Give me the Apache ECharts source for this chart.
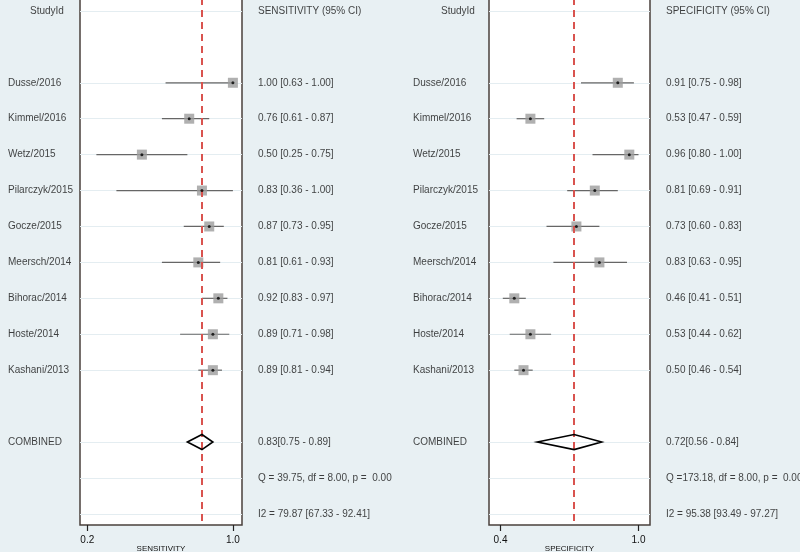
<!DOCTYPE html>
<html><head><meta charset="utf-8">
<script src="https://cdn.jsdelivr.net/npm/echarts@6/dist/echarts.min.js"></script>
<style>html,body{margin:0;padding:0;background:#e8f0f3}#c{width:800px;height:552px}</style>
</head><body><div id="c"></div>
<script>
// ---- data ----
const studies = ['Dusse/2016','Kimmel/2016','Wetz/2015','Pilarczyk/2015','Gocze/2015','Meersch/2014','Bihorac/2014','Hoste/2014','Kashani/2013'];
const sensEst = [1.00,0.76,0.50,0.83,0.87,0.81,0.92,0.89,0.89];
const sensLo  = [0.63,0.61,0.25,0.36,0.73,0.61,0.83,0.71,0.81];
const sensHi  = [1.00,0.87,0.75,1.00,0.95,0.93,0.97,0.98,0.94];
const specEst = [0.91,0.53,0.96,0.81,0.73,0.83,0.46,0.53,0.50];
const specLo  = [0.75,0.47,0.80,0.69,0.60,0.63,0.41,0.44,0.46];
const specHi  = [0.98,0.59,1.00,0.91,0.83,0.95,0.51,0.62,0.54];
const sensCombined = [0.83,0.75,0.89];
const specCombined = [0.72,0.56,0.84];
const sensQ  = 'Q = 39.75, df = 8.00, p =  0.00';
const sensI2 = 'I2 = 79.87 [67.33 - 92.41]';
const specQ  = 'Q =173.18, df = 8.00, p =  0.00';
const specI2 = 'I2 = 95.38 [93.49 - 97.27]';
const sensTicks = [0.2, 1.0];
const specTicks = [0.4, 1.0];
const headerStudy = 'StudyId';
const sensHeader = 'SENSITIVITY (95% CI)';
const specHeader = 'SPECIFICITY (95% CI)';
const combinedLabel = 'COMBINED';

// ---- layout rows ----
const ROW_HEADER = 0, ROW_FIRST = 2, ROW_COMB = 12, ROW_Q = 13, ROW_I2 = 14;
const studyRows = studies.map((_, i) => ROW_FIRST + i);
const gridRows = [ROW_HEADER, ...studyRows, ROW_COMB, ROW_Q, ROW_I2];

const FONT = "'Liberation Sans', Arial, sans-serif";
const TXT = '#111';
const f2 = v => v.toFixed(2);

const G = {top: -2, bottom: 27, outerBoundsMode: 'none', containLabel: false};
const grids = [
  {...G, left: 0,   width: 80},   // 0 names L
  {...G, left: 80,  width: 162, show: true, backgroundColor: '#fff', borderColor: '#4a403d', borderWidth: 1.5}, // 1 plot L
  {...G, left: 242, width: 158},  // 2 stats L
  {...G, left: 400, width: 89},   // 3 names R
  {...G, left: 489, width: 161, show: true, backgroundColor: '#fff', borderColor: '#4a403d', borderWidth: 1.5}, // 4 plot R
  {...G, left: 650, width: 150}   // 5 stats R
];

const yAxes = grids.map((g, i) => ({type: 'value', gridIndex: i, inverse: true, min: -0.36, max: 14.31, show: false}));

function plotX(gi, min, max, ticks, name) {
  return {
    type: 'value', gridIndex: gi, min, max, position: 'bottom',
    axisLine: {show: false, onZero: false},
    splitLine: {show: false},
    axisTick: {show: true, customValues: ticks, length: 6, inside: false, lineStyle: {color: '#222', width: 1.2}},
    axisLabel: {show: true, customValues: ticks, formatter: v => v.toFixed(1), fontSize: 10, color: TXT, fontFamily: FONT, margin: 10},
    name, nameLocation: 'middle', nameGap: 20, nameMoveOverlap: false,
    nameTextStyle: {fontSize: 8, color: TXT, fontFamily: FONT}
  };
}
const xAxes = [
  {type: 'value', gridIndex: 0, min: 0, max: 1, show: false},
  plotX(1, 0.16, 1.05, sensTicks, 'SENSITIVITY'),
  {type: 'value', gridIndex: 2, min: 0, max: 1, show: false},
  {type: 'value', gridIndex: 3, min: 0, max: 1, show: false},
  plotX(4, 0.35, 1.05, specTicks, 'SPECIFICITY'),
  {type: 'value', gridIndex: 5, min: 0, max: 1, show: false}
];

function textSeries(gi, items, dist) {
  return {
    type: 'scatter', xAxisIndex: gi, yAxisIndex: gi, symbolSize: 0, silent: true, clip: false,
    itemStyle: {color: 'transparent'},
    label: {show: true, position: 'right', distance: dist, formatter: p => p.name,
            fontSize: 10, color: TXT, fontFamily: FONT},
    data: items.map(it => ({name: it[0], value: [0, it[1]]}))
  };
}

function forestSeries(gi, est, lo, hi, comb) {
  const ciData = est.map((e, i) => [studyRows[i], lo[i], hi[i]]);
  return [
    { // CI lines + row gridlines
      type: 'custom', xAxisIndex: gi, yAxisIndex: gi, z: 2, silent: true,
      renderItem: (params, api) => {
        const y = api.value(0), a = api.coord([api.value(1), y]), b = api.coord([api.value(2), y]);
        return {type: 'line', shape: {x1: a[0], y1: a[1], x2: b[0], y2: b[1]}, style: {stroke: '#666', lineWidth: 1.2}};
      },
      encode: {x: [1, 2], y: 0},
      data: ciData,
      markLine: {
        silent: true, symbol: 'none', label: {show: false}, z: 1,
        lineStyle: {color: '#e4edf1', width: 1, type: 'solid'},
        data: gridRows.map(r => ({yAxis: r}))
      }
    },
    { // squares
      type: 'scatter', xAxisIndex: gi, yAxisIndex: gi, z: 4, silent: true,
      symbol: 'rect', symbolSize: 10, itemStyle: {color: '#9c9c9c'},
      data: est.map((e, i) => [e, studyRows[i]]),
      markLine: {
        silent: true, symbol: 'none', label: {show: false},
        lineStyle: {color: '#d9534f', width: 2, type: [7, 5]},
        data: [{xAxis: comb[0]}]
      }
    },
    { // centre dots
      type: 'scatter', xAxisIndex: gi, yAxisIndex: gi, z: 5, silent: true,
      symbol: 'circle', symbolSize: 3, itemStyle: {color: '#000'},
      data: est.map((e, i) => [e, studyRows[i]])
    },
    { // combined diamond
      type: 'custom', xAxisIndex: gi, yAxisIndex: gi, z: 5, silent: true,
      renderItem: (params, api) => {
        const y = api.value(0), e = api.value(1), l = api.value(2), h = api.value(3);
        const pts = [api.coord([l, y]), api.coord([e, y - 0.21]), api.coord([h, y]), api.coord([e, y + 0.21])];
        return {type: 'polygon', shape: {points: pts}, style: {fill: 'none', stroke: '#000', lineWidth: 1.6}};
      },
      encode: {x: [1, 2, 3], y: 0},
      data: [[ROW_COMB, comb[0], comb[1], comb[2]]]
    }
  ];
}

const nameItems = [...studies.map((s, i) => [s, studyRows[i]]), [combinedLabel, ROW_COMB]];
const sensStats = [[sensHeader, ROW_HEADER],
  ...sensEst.map((e, i) => [`${f2(e)} [${f2(sensLo[i])} - ${f2(sensHi[i])}]`, studyRows[i]]),
  [`${f2(sensCombined[0])}[${f2(sensCombined[1])} - ${f2(sensCombined[2])}]`, ROW_COMB],
  [sensQ, ROW_Q], [sensI2, ROW_I2]];
const specStats = [[specHeader, ROW_HEADER],
  ...specEst.map((e, i) => [`${f2(e)} [${f2(specLo[i])} - ${f2(specHi[i])}]`, studyRows[i]]),
  [`${f2(specCombined[0])}[${f2(specCombined[1])} - ${f2(specCombined[2])}]`, ROW_COMB],
  [specQ, ROW_Q], [specI2, ROW_I2]];

const series = [
  textSeries(0, nameItems, 8),
  textSeries(0, [[headerStudy, ROW_HEADER]], 30),
  ...forestSeries(1, sensEst, sensLo, sensHi, sensCombined),
  textSeries(2, sensStats, 16),
  textSeries(3, nameItems, 13),
  textSeries(3, [[headerStudy, ROW_HEADER]], 41),
  ...forestSeries(4, specEst, specLo, specHi, specCombined),
  textSeries(5, specStats, 16)
];

const chart = echarts.init(document.getElementById('c'), null, {renderer: 'canvas'});
chart.setOption({
  backgroundColor: '#e8f0f3',
  animation: false,
  grid: grids,
  xAxis: xAxes,
  yAxis: yAxes,
  series
});
</script></body></html>
